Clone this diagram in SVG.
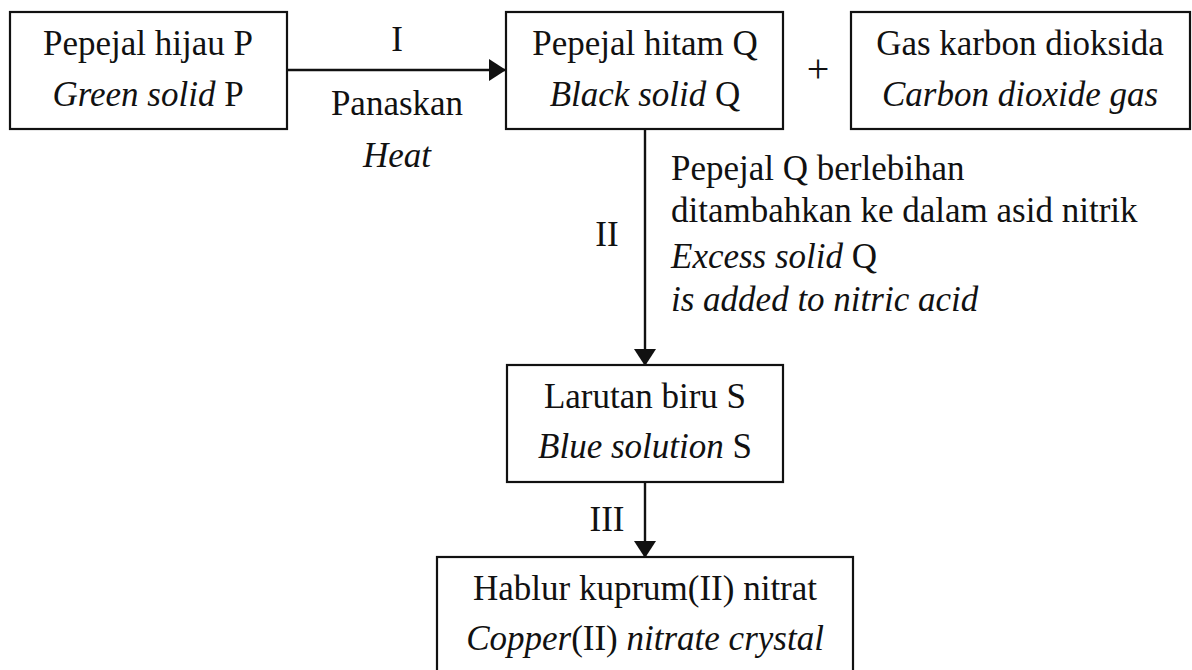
<svg xmlns="http://www.w3.org/2000/svg" width="1192" height="670" viewBox="0 0 1192 670">
<style>
text{font-family:"Liberation Serif","Times New Roman",serif;font-size:35px;fill:#111}
.c{text-anchor:middle}
.i{font-style:italic}
.box{fill:#fff;stroke:#111;stroke-width:2.2}
.ln{stroke:#111;stroke-width:2.4;fill:none}
</style>
<defs>
<marker id="ah" markerUnits="userSpaceOnUse" markerWidth="17" markerHeight="22" refX="16" refY="11" orient="auto">
<path d="M0,0 L17,11 L0,22 Z" fill="#111"/>
</marker>
</defs>
<rect width="1192" height="670" fill="#fff"/>
<g id="connectors">
<line class="ln" x1="287" y1="70" x2="505" y2="70" marker-end="url(#ah)"/>
<line class="ln" x1="645" y1="129" x2="645" y2="365" marker-end="url(#ah)"/>
<line class="ln" x1="645" y1="482" x2="645" y2="557" marker-end="url(#ah)"/>
<text class="c" x="397" y="51">I</text>
<text class="c" x="397" y="115">Panaskan</text>
<text class="c i" x="397" y="167">Heat</text>
<text class="c" x="607" y="246">II</text>
<text x="671" y="180">Pepejal Q berlebihan</text>
<text x="671" y="222">ditambahkan ke dalam asid nitrik</text>
<text x="671" y="268"><tspan class="i">Excess solid</tspan> Q</text>
<text class="i" x="671" y="311">is added to nitric acid</text>
<text class="c" x="607" y="531">III</text>
</g>
<g id="nodeP">
<rect class="box" x="10" y="12" width="277" height="117"/>
<text class="c" x="148" y="55">Pepejal hijau P</text>
<text class="c" x="148" y="106"><tspan class="i">Green solid</tspan> P</text>
</g>
<g id="nodeQ">
<rect class="box" x="506" y="12" width="277" height="117"/>
<text class="c" x="645" y="55">Pepejal hitam Q</text>
<text class="c" x="645" y="106"><tspan class="i">Black solid</tspan> Q</text>
</g>
<g id="plus">
<text class="c" x="818" y="82" style="font-size:40px;font-weight:300">+</text>
</g>
<g id="nodeCO2">
<rect class="box" x="851" y="12" width="339" height="117"/>
<text class="c" x="1020" y="55">Gas karbon dioksida</text>
<text class="c i" x="1020" y="106">Carbon dioxide gas</text>
</g>
<g id="nodeS">
<rect class="box" x="507" y="365" width="276" height="117"/>
<text class="c" x="645" y="408">Larutan biru S</text>
<text class="c" x="645" y="458"><tspan class="i">Blue solution</tspan> S</text>
</g>
<g id="nodeCrystal">
<rect class="box" x="437" y="557" width="416" height="120"/>
<text class="c" x="645" y="600">Hablur kuprum(II) nitrat</text>
<text class="c" x="645" y="650"><tspan class="i">Copper</tspan>(II) <tspan class="i">nitrate crystal</tspan></text>
</g>
</svg>
